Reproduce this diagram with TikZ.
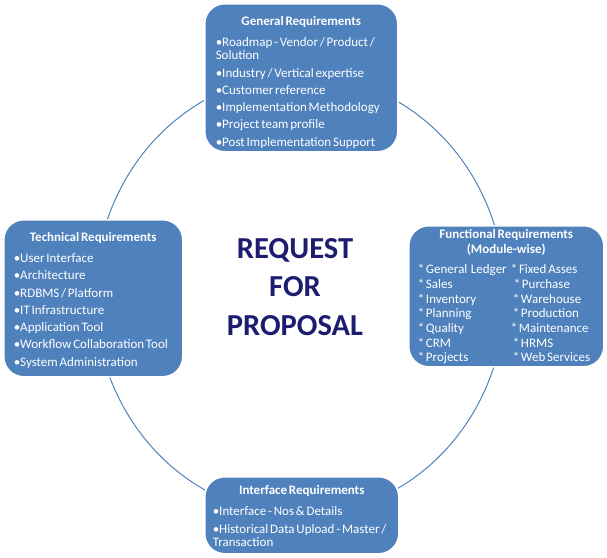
\documentclass[tikz,border=0pt]{standalone}
\usepackage{fontspec}
\setmainfont{Carlito}[WordSpace=0.6]
\usetikzlibrary{shapes}

\definecolor{reqblue}{RGB}{79,129,189}
\definecolor{rfpnavy}{RGB}{28,28,112}

\newcommand{\reqfont}{\fontsize{13}{13.3}\selectfont}
\newcommand{\reqhead}[1]{{\centering\bfseries #1\par}\vspace{7.7pt}}
\newcommand{\reqitem}[1]{\hangindent=4pt\hangafter=1\textbullet#1\par\vspace{4pt}}
\newcommand{\modrow}[2]{\makebox[93pt][l]{#1}#2\par}

\begin{document}
\begin{tikzpicture}[x=1pt, y=-1pt,
	reqbox/.style={fill=reqblue, draw=white, line width=1.5pt, rounded corners=20pt,
		text=white, font=\reqfont, align=flush left, inner ysep=0pt, anchor=north west},
	ring/.style={ellipse, draw=reqblue, line width=1pt, inner sep=0pt,
		minimum width=410pt, minimum height=440pt},
	rfp/.style={font=\fontsize{30.5}{38.5}\selectfont\bfseries, text=rfpnavy, align=center}]
	\useasboundingbox (0,0) rectangle (607,557);

	\node[ring] (ring) at (300,295) {};

	\node[reqbox, inner xsep=11pt, text width=171pt, text height=21.7pt, text depth=126.3pt] (general) at (204,3) {%
		\reqhead{General Requirements}%
		\reqitem{Roadmap - Vendor / Product /\\Solution}%
		\reqitem{Industry / Vertical expertise}%
		\reqitem{Customer reference}%
		\reqitem{Implementation Methodology}%
		\reqitem{Project team profile}%
		\reqitem{Post Implementation Support}};

	\node[reqbox, inner xsep=10pt, text width=159pt, text height=21.7pt, text depth=135.3pt] (technical) at (3,219) {%
		\reqhead{Technical Requirements}%
		\reqitem{User Interface}%
		\reqitem{Architecture}%
		\reqitem{RDBMS / Platform}%
		\reqitem{IT Infrastructure}%
		\reqitem{Application Tool}%
		\reqitem{Workflow Collaboration Tool}%
		\reqitem{System Administration}};

	\node[reqbox, inner xsep=9pt, text width=177pt, text height=13pt, text depth=128pt] (functional) at (408,225) {%
		{\centering\bfseries\fontsize{13}{14.3}\selectfont Functional Requirements\\(Module-wise)\par}\vspace{6pt}%
		\fontsize{13}{14.7}\selectfont
		\modrow{* General\ \ Ledger}{* Fixed Asses}%
		\modrow{* Sales}{\hspace{3pt}* Purchase}%
		\modrow{* Inventory}{\hspace{2pt}* Warehouse}%
		\modrow{* Planning}{\hspace{2pt}* Production}%
		\modrow{* Quality}{* Maintenance}%
		\modrow{* CRM}{\hspace{2pt}* HRMS}%
		\modrow{* Projects}{\hspace{2pt}* Web Services}};

	\node[reqbox, inner xsep=8pt, text width=178pt, text height=18pt, text depth=59pt] (interface) at (204,476) {%
		\reqhead{Interface Requirements}%
		\reqitem{Interface - Nos \& Details}%
		\reqitem{Historical Data Upload - Master /\\Transaction}};

	\node[rfp, anchor=base] (rfp) at (295,335) {REQUEST\\FOR\\PROPOSAL};
\end{tikzpicture}
\end{document}
